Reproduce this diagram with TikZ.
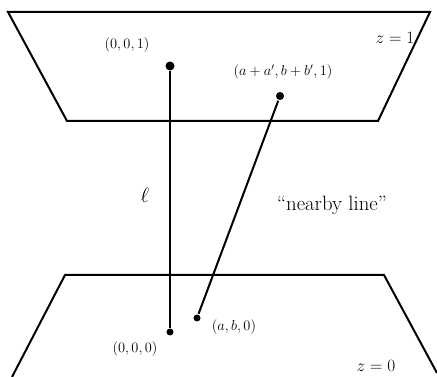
\documentclass[tikz,border=0pt]{standalone}
\usepackage{amsmath,amssymb}
\usepackage{tikz}

\begin{document}
\begin{tikzpicture}[x=1pt,y=-1pt,line width=2pt,
  dot/.style={circle,fill,inner sep=0pt,minimum size=#1},
  lbl/.style={font=\Large}]
  \useasboundingbox (0,0) rectangle (437,377);
  % planes z=1 and z=0
  \draw (8,12) -- (430,12) -- (378,121) -- (67,121) -- cycle;
  \draw (12,377) -- (65,275) -- (384,275) -- (437,373);
  % points
  \node[dot=9pt] (P1) at (170,66) {};
  \node[dot=7pt] (P0) at (170,332) {};
  \node[dot=8pt] (Q1) at (280,96) {};
  \node[dot=7pt] (Q0) at (197,318) {};
  \draw (P1) -- (P0);
  \draw (Q1) -- (Q0);
  \node[font=\LARGE] (z1) at (395,38) {$z=1$};
  \node[font=\LARGE] (z0) at (376,366) {$z=0$};
  \node[lbl] (lP1) at (127,45) {$(0,0,1)$};
  \node[lbl] (lQ1) at (283,72) {$(a+a',b+b',1)$};
  \node[lbl] (lP0) at (135,349) {$(0,0,0)$};
  \node[lbl] (lQ0) at (234,327) {$(a,b,0)$};
  \node[font=\huge] (ell) at (145,195) {$\ell$};
  \node[font=\huge] (near) at (332,205) {``nearby line''};
\end{tikzpicture}
\end{document}
